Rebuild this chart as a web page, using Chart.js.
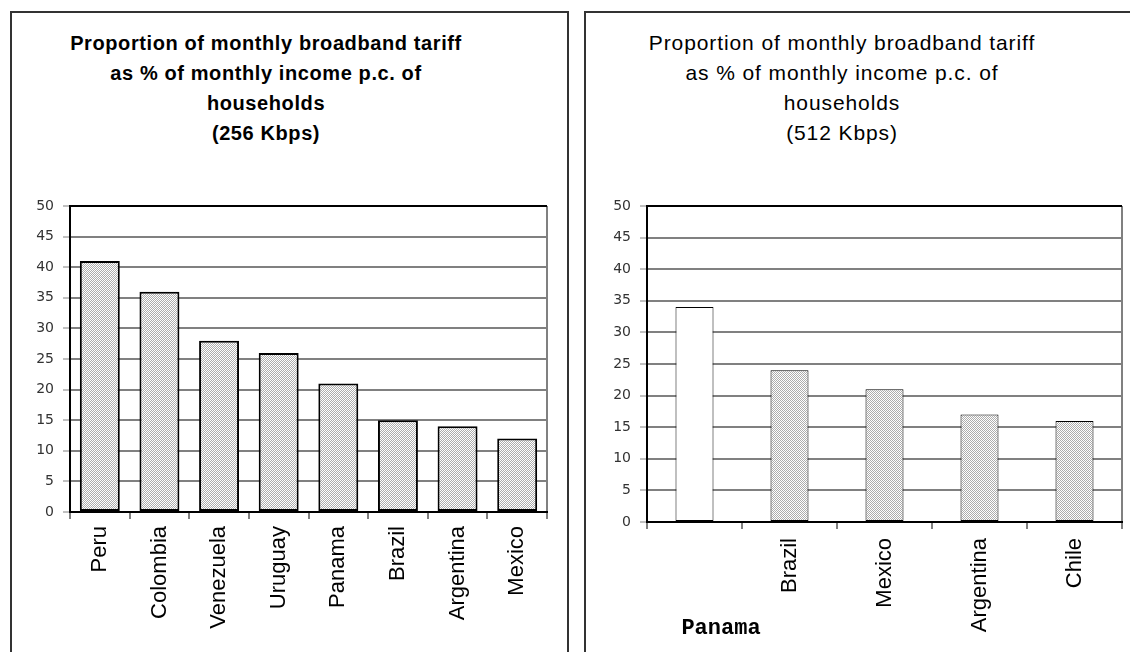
<!DOCTYPE html>
<html>
<head>
    <title>Broadband tariff as % of income</title>
    <script src="https://cdn.jsdelivr.net/npm/chart.js"></script>
    <style>
        * { box-sizing: border-box; margin: 0; padding: 0; }
        body { width: 1130px; height: 652px; overflow: hidden; background: #fff; position: relative; font-family: 'Liberation Sans', Arial, sans-serif; }
        .panel { position: absolute; border: 2px solid #333; border-bottom: none; height: 700px; }
        #panelLeft { left: 10px; top: 11px; width: 559px; }
        #panelRight { left: 584px; top: 11px; width: 600px; }
        .title { position: absolute; width: 500px; text-align: center; line-height: 30px; color: #000; }
        #titleLeft { left: 16px; top: 28px; font-size: 20px; font-weight: bold; letter-spacing: 0.6px; }
        #titleRight { left: 592px; top: 28px; font-size: 21px; letter-spacing: 0.9px; }
        canvas { position: absolute; }
        #leftChart { left: 11px; top: 12px; }
        #rightChart { left: 586px; top: 12px; }
        #strayLabel { position: absolute; left: 661px; top: 618px; width: 120px; text-align: center;
            font-family: 'Liberation Mono', 'Courier New', monospace; font-weight: bold; font-size: 22px; line-height: 22px; }
    </style>
</head>
<body>
    <div class="panel" id="panelLeft"></div>
    <div class="panel" id="panelRight"></div>

    <div class="title" id="titleLeft">Proportion of monthly broadband tariff<br>as % of monthly income p.c. of<br>households<br>(256 Kbps)</div>
    <div class="title" id="titleRight">Proportion of monthly broadband tariff<br>as % of monthly income p.c. of<br>households<br>(512 Kbps)</div>

    <canvas id="leftChart" width="555" height="640"></canvas>
    <canvas id="rightChart" width="544" height="640"></canvas>

    <div id="strayLabel">Panama</div>

    <script>
        // 256 Kbps
        const leftCategories = ['Peru', 'Colombia', 'Venezuela', 'Uruguay', 'Panama', 'Brazil', 'Argentina', 'Mexico'];
        const leftValues = [41, 36, 28, 26, 21, 15, 14, 12];

        // 512 Kbps (the Panama label sits loose under the chart in the original)
        const rightCategories = ['Panama', 'Brazil', 'Mexico', 'Argentina', 'Chile'];
        const rightValues = [34, 24, 21, 17, 16];

        const yMin = 0, yMax = 50, yStep = 5;

        // stippled grey fill
        function makeStipple() {
            const c = document.createElement('canvas');
            c.width = 2; c.height = 2;
            const g = c.getContext('2d');
            g.fillStyle = '#ffffff';
            g.fillRect(0, 0, 2, 2);
            g.fillStyle = '#adadad';
            g.fillRect(0, 0, 1, 1);
            g.fillRect(1, 1, 1, 1);
            return g.createPattern(c, 'repeat');
        }

        function buildChart(id, labels, values, opt) {
            const ctx = document.getElementById(id).getContext('2d');
            const stipple = makeStipple();
            return new Chart(ctx, {
                type: 'bar',
                data: {
                    labels: labels,
                    datasets: [{
                        data: values,
                        backgroundColor: c => (opt.hollowFirst && c.dataIndex === 0) ? '#ffffff' : stipple,
                        borderColor: '#000',
                        borderWidth: opt.barBorder,
                        borderSkipped: false,
                        barPercentage: opt.barPct,
                        categoryPercentage: 1
                    }]
                },
                options: {
                    responsive: false,
                    animation: false,
                    layout: { padding: { top: 194, right: opt.padRight, left: 0, bottom: 0 } },
                    plugins: { legend: { display: false }, tooltip: { enabled: false }, title: { display: false } },
                    scales: {
                        x: {
                            afterFit: s => { s.height = opt.xHeight; },
                            border: { color: '#000', width: 2 },
                            grid: {
                                offset: true,
                                drawOnChartArea: true,
                                color: c => c.type === 'scale' ? '#808080' : 'rgba(0,0,0,0)',
                                lineWidth: 2,
                                tickColor: '#000',
                                tickLength: 7,
                                tickWidth: 1
                            },
                            ticks: {
                                minRotation: 90,
                                maxRotation: 90,
                                autoSkip: false,
                                padding: opt.xPad,
                                color: '#000',
                                font: { family: 'Liberation Sans', size: 22 },
                                callback: (v, i) => (opt.hideFirst && i === 0) ? '' : labels[i]
                            }
                        },
                        y: {
                            min: yMin,
                            max: yMax,
                            afterFit: s => { s.width = opt.yWidth; },
                            border: { color: '#000', width: 2 },
                            grid: {
                                color: c => c.tick && c.tick.value === yMax ? '#000' : '#808080',
                                lineWidth: 2,
                                tickColor: '#808080',
                                tickLength: 7,
                                tickWidth: 1
                            },
                            ticks: {
                                stepSize: yStep,
                                padding: 9,
                                color: '#333',
                                font: { family: 'DejaVu Sans', size: 14 }
                            }
                        }
                    }
                }
            });
        }

        buildChart('leftChart', leftCategories, leftValues, {
            barPct: 0.67, barBorder: 2, padRight: 19, xHeight: 140, yWidth: 59, xPad: 7, hollowFirst: false, hideFirst: false
        });

        buildChart('rightChart', rightCategories, rightValues, {
            barPct: 0.4, barBorder: 1, padRight: 8, xHeight: 130, yWidth: 61, xPad: 9, hollowFirst: true, hideFirst: true
        });
    </script>
</body>
</html>
